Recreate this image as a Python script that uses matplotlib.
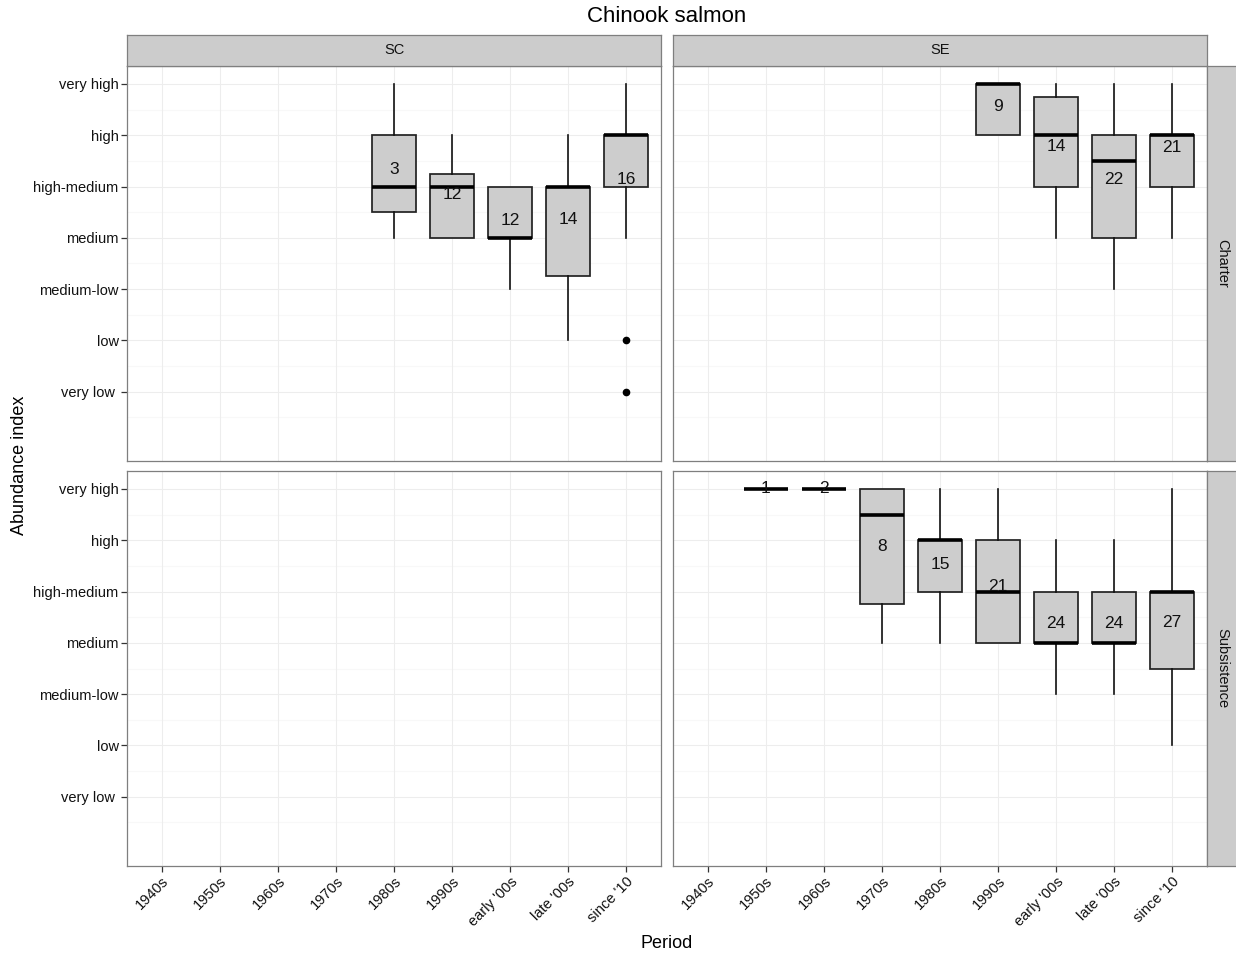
import matplotlib
matplotlib.use("Agg")
import matplotlib.pyplot as plt

plt.rcParams['font.family'] = ['Liberation Sans', 'DejaVu Sans']

periods = ["1940s", "1950s", "1960s", "1970s", "1980s", "1990s",
           "early '00s", "late '00s", "since '10"]
levels = ["very low ", "low", "medium-low", "medium", "high-medium", "high", "very high"]
regions = ["SC", "SE"]
fisheries = ["Charter", "Subsistence"]

# Box statistics per (fishery, region): period index, whisker low, Q1, median, Q3,
# whisker high, mean (label position), n, outliers
sc_charter_period = [4, 5, 6, 7, 8]
sc_charter_whislo = [4, 4, 3, 2, 4]
sc_charter_q1 = [4.5, 4, 4, 3.25, 5]
sc_charter_med = [5, 5, 4, 5, 6]
sc_charter_q3 = [6, 5.25, 5, 5, 6]
sc_charter_whishi = [7, 6, 5, 6, 7]
sc_charter_mean = [5.33, 4.85, 4.33, 4.36, 5.13]
sc_charter_n = [3, 12, 12, 14, 16]
sc_charter_out = [[], [], [], [], [2, 1]]

se_charter_period = [5, 6, 7, 8]
se_charter_whislo = [6, 4, 3, 4]
se_charter_q1 = [6, 5, 4, 5]
se_charter_med = [7, 6, 5.5, 6]
se_charter_q3 = [7, 6.75, 6, 6]
se_charter_whishi = [7, 7, 7, 7]
se_charter_mean = [6.56, 5.79, 5.14, 5.76]
se_charter_n = [9, 14, 22, 21]
se_charter_out = [[], [], [], []]

se_subs_period = [1, 2, 3, 4, 5, 6, 7, 8]
se_subs_whislo = [7, 7, 4, 4, 4, 3, 3, 2]
se_subs_q1 = [7, 7, 4.75, 5, 4, 4, 4, 3.5]
se_subs_med = [7, 7, 6.5, 6, 5, 4, 4, 5]
se_subs_q3 = [7, 7, 7, 6, 6, 5, 5, 5]
se_subs_whishi = [7, 7, 7, 7, 7, 6, 6, 7]
se_subs_mean = [7, 7, 5.88, 5.53, 5.1, 4.38, 4.38, 4.4]
se_subs_n = [1, 2, 8, 15, 21, 24, 24, 27]
se_subs_out = [[], [], [], [], [], [], [], []]

panel_data = {
    ("Charter", "SC"): (sc_charter_period, sc_charter_whislo, sc_charter_q1, sc_charter_med,
                        sc_charter_q3, sc_charter_whishi, sc_charter_mean, sc_charter_n, sc_charter_out),
    ("Charter", "SE"): (se_charter_period, se_charter_whislo, se_charter_q1, se_charter_med,
                        se_charter_q3, se_charter_whishi, se_charter_mean, se_charter_n, se_charter_out),
    ("Subsistence", "SE"): (se_subs_period, se_subs_whislo, se_subs_q1, se_subs_med,
                            se_subs_q3, se_subs_whishi, se_subs_mean, se_subs_n, se_subs_out),
}

W, H = 1236, 956
fig = plt.figure(figsize=(W / 100, H / 100), dpi=100)

border = '#7F7F7F'
strip_fill = '#CCCCCC'
grid_major = '#EDEDED'
grid_minor = '#F8F8F8'
box_fill = '#CDCDCD'
text_col = '#111111'

panel_x = [127, 673]
panel_w = 534
panel_y = [66, 471]
panel_h = 395
strip_h = 31


def fx(px):
    return px / W


def fy(py):
    return 1 - py / H


for r, fish in enumerate(fisheries):
    for c, reg in enumerate(regions):
        x0, y0 = panel_x[c], panel_y[r]
        ax = fig.add_axes([fx(x0), fy(y0 + panel_h), panel_w / W, panel_h / H])
        ax.set_xlim(0.4, len(periods) + 0.6)
        ax.set_ylim(-0.35, 7.35)
        ax.set_facecolor('white')
        # grid
        for yv in [k + 0.5 for k in range(0, 7)]:
            ax.axhline(yv, color=grid_minor, lw=0.9, zorder=0)
        for yv in range(1, 8):
            ax.axhline(yv, color=grid_major, lw=0.8, zorder=0.5)
        for xv in range(1, len(periods) + 1):
            ax.axvline(xv, color=grid_major, lw=0.8, zorder=0.5)
        for sp in ax.spines.values():
            sp.set_color(border)
            sp.set_linewidth(0.9)
        ax.set_xticks(range(1, len(periods) + 1))
        ax.set_yticks(range(1, 8))
        ax.tick_params(axis='both', length=4, width=0.9, color='#333333',
                       labelsize=10.5, labelcolor=text_col, pad=2)
        if c == 0:
            ax.set_yticklabels(levels)
        else:
            ax.tick_params(axis='y', length=0, labelleft=False)
        if r == len(fisheries) - 1:
            ax.set_xticklabels(periods, rotation=45, ha='right', va='top',
                               rotation_mode='anchor')
        else:
            ax.tick_params(axis='x', length=0, labelbottom=False)

        key = (fish, reg)
        if key in panel_data:
            pos, wlo, q1, med, q3, whi, mean, n, out = panel_data[key]
            stats = []
            for i in range(len(pos)):
                stats.append(dict(med=med[i], q1=q1[i], q3=q3[i], whislo=wlo[i],
                                  whishi=whi[i], fliers=out[i]))
            ax.bxp(stats, positions=[p + 1 for p in pos], widths=0.75,
                   patch_artist=True, showcaps=False, manage_ticks=False,
                   boxprops=dict(facecolor=box_fill, edgecolor='#222222', linewidth=1.25),
                   whiskerprops=dict(color='#111111', linewidth=1.2),
                   medianprops=dict(color='black', linewidth=2.6, solid_capstyle='butt'),
                   flierprops=dict(marker='o', markerfacecolor='black',
                                   markeredgecolor='black', markersize=4.5),
                   zorder=2)
            for i in range(len(pos)):
                ax.text(pos[i] + 1, mean[i], str(n[i]), ha='center', va='center',
                        fontsize=12.5, color=text_col, zorder=4)

        # column strips
        if r == 0:
            sax = fig.add_axes([fx(x0), fy(y0), panel_w / W, strip_h / H])
            sax.set_xticks([]); sax.set_yticks([])
            sax.set_facecolor(strip_fill)
            for sp in sax.spines.values():
                sp.set_color(border); sp.set_linewidth(0.9)
            sax.text(0.5, 0.5, reg, ha='center', va='center', fontsize=10.5,
                     color=text_col, transform=sax.transAxes)
        # row strips
        if c == len(regions) - 1:
            sax = fig.add_axes([fx(x0 + panel_w), fy(y0 + panel_h), strip_h / W, panel_h / H])
            sax.set_xticks([]); sax.set_yticks([])
            sax.set_facecolor(strip_fill)
            for sp in sax.spines.values():
                sp.set_color(border); sp.set_linewidth(0.9)
            sax.text(0.5, 0.5, fish, ha='center', va='center', fontsize=10.5,
                     color=text_col, rotation=270, transform=sax.transAxes)

fig.text(fx(667), fy(17), "Chinook salmon", ha='center', va='center', fontsize=16, color='black')
fig.text(fx(667), fy(943), "Period", ha='center', va='center', fontsize=13, color='black')
fig.text(fx(20), fy(465), "Abundance index", ha='center', va='center', fontsize=13,
         rotation=90, color='black')

fig.savefig("out.png", dpi=100, facecolor='white')
